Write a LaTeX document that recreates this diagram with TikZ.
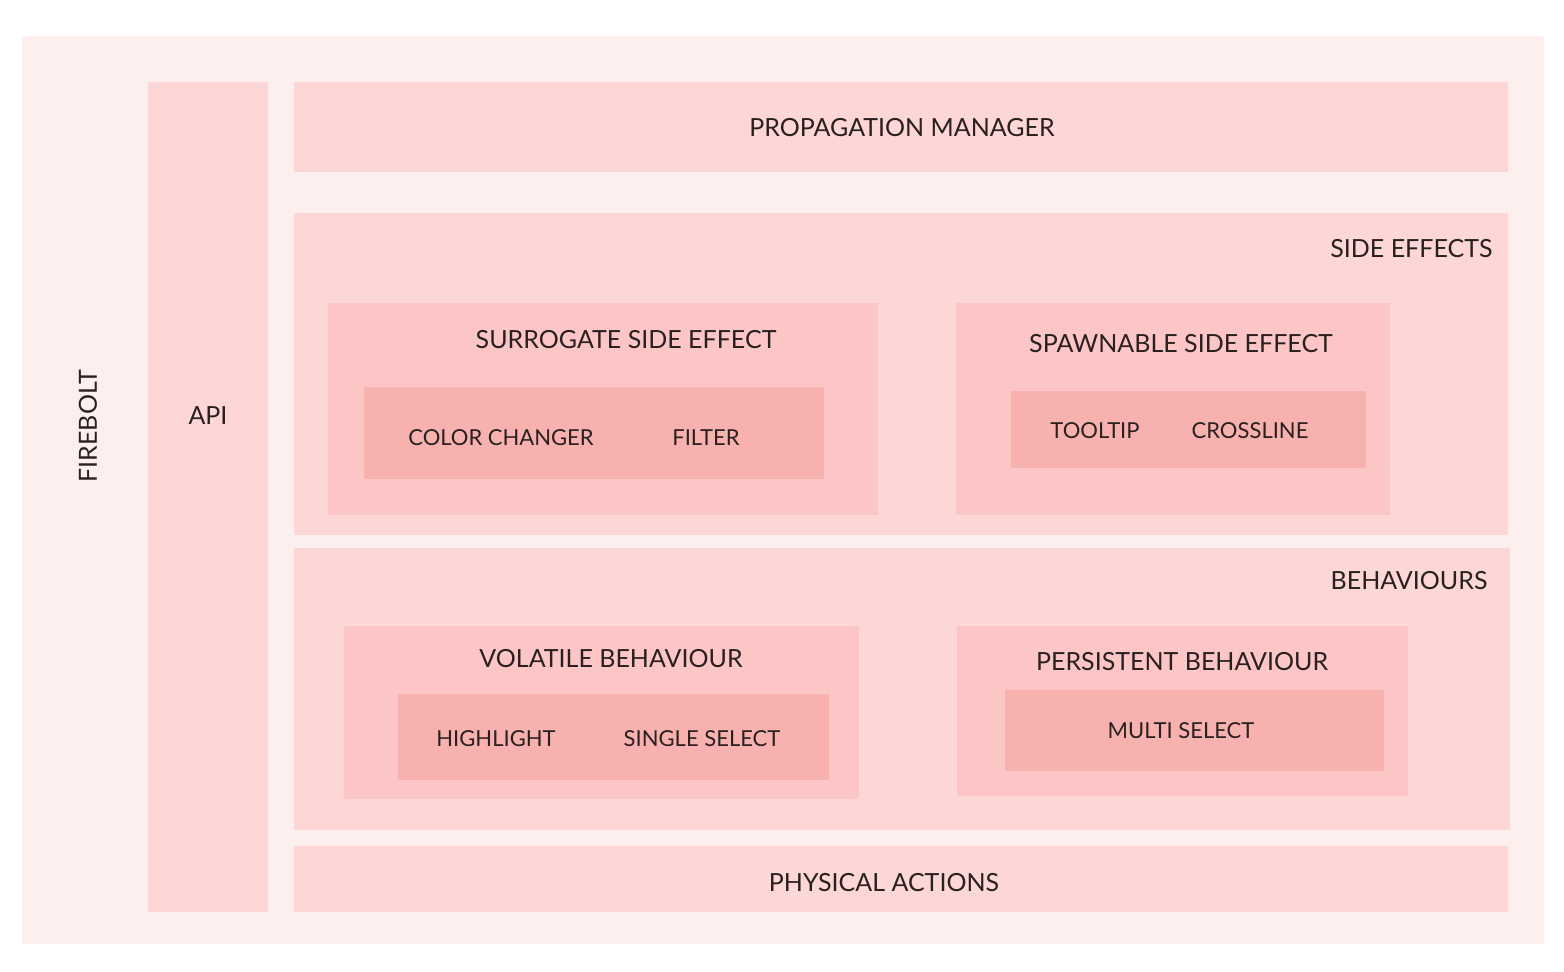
\documentclass[tikz,border=0pt]{standalone}
\usepackage{fontspec}
\setmainfont{Lato}
\definecolor{c0}{HTML}{FEEFEF}
\definecolor{c1}{HTML}{FDD6D6}
\definecolor{c2}{HTML}{FCC6C6}
\definecolor{c3}{HTML}{F7B1AF}
\definecolor{tx}{HTML}{2A2020}
\tikzset{box/.style={anchor=north west,inner sep=0pt,outer sep=0pt,draw=none},
lbl/.style={text=tx,font=\fontsize{25}{28}\selectfont},
sl/.style={text=tx,font=\fontsize{22}{26}\selectfont}}
\newcommand\bx[6]{\node[box,fill=#6,minimum width=#4pt-#2pt,minimum height=#5pt-#3pt] (#1) at (#2pt,-#3pt) {};}
\begin{document}
\begin{tikzpicture}[x=1pt,y=1pt]
\useasboundingbox[fill=white] (0,0) rectangle (1564,-972);
\bx{outer}{22}{36}{1544}{944}{c0}
\bx{api}{148}{82}{268}{912}{c1}
\bx{prop}{294}{82}{1508}{172}{c1}
\bx{side}{294}{213}{1508}{535}{c1}
\bx{surr}{328}{303}{878}{515}{c2}
\bx{surri}{364}{387}{824}{479}{c3}
\bx{spawn}{956}{303}{1390}{515}{c2}
\bx{spawni}{1011}{391}{1366}{468}{c3}
\bx{beh}{294}{548}{1510}{830}{c1}
\bx{vol}{344}{626}{859}{799}{c2}
\bx{voli}{398}{694}{829}{780}{c3}
\bx{per}{957}{626}{1408}{796}{c2}
\bx{peri}{1005}{690}{1384}{771}{c3}
\bx{phys}{294}{846}{1508}{912}{c1}
\node[lbl,rotate=90] (t0) at (88,-426) {FIREBOLT};
\node[lbl] (t1) at (208,-416) {API};
\node[lbl] (t2) at (902,-128) {PROPAGATION MANAGER};
\node[lbl,anchor=east] (t3) at (1496,-249) {SIDE EFFECTS};
\node[lbl] (t4) at (626,-340) {SURROGATE SIDE EFFECT};
\node[sl] (t5) at (501,-438) {COLOR CHANGER};
\node[sl] (t6) at (706,-438) {FILTER};
\node[lbl] (t7) at (1181,-344) {SPAWNABLE SIDE EFFECT};
\node[sl] (t8) at (1095,-431) {TOOLTIP};
\node[sl] (t9) at (1250,-431) {CROSSLINE};
\node[lbl,anchor=east] (t10) at (1491,-581) {BEHAVIOURS};
\node[lbl] (t11) at (611,-659) {VOLATILE BEHAVIOUR};
\node[sl] (t12) at (496,-739) {HIGHLIGHT};
\node[sl] (t13) at (702,-739) {SINGLE SELECT};
\node[lbl] (t14) at (1182,-662) {PERSISTENT BEHAVIOUR};
\node[sl] (t15) at (1181,-731) {MULTI SELECT};
\node[lbl] (t16) at (884,-883) {PHYSICAL ACTIONS};
\end{tikzpicture}
\end{document}
